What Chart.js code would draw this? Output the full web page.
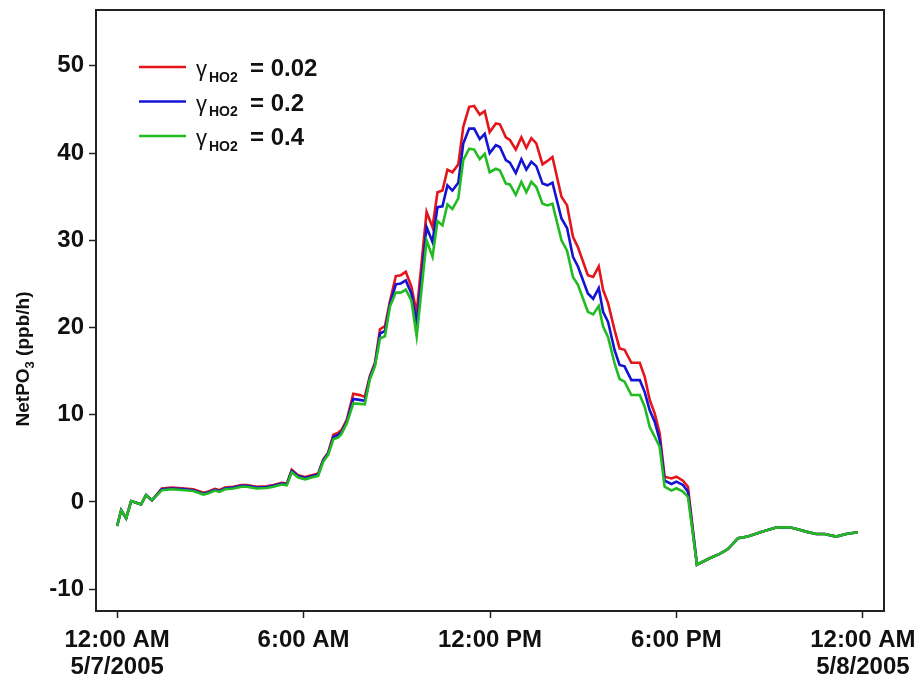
<!DOCTYPE html>
<html>
<head>
<meta charset="utf-8">
<script src="https://cdn.jsdelivr.net/npm/chart.js@4.4.1/dist/chart.umd.min.js"></script>
<style>
  html, body { margin: 0; padding: 0; background: #fff; }
</style>
</head>
<body>
<canvas id="myChart" width="917" height="679"></canvas>
<script>
// horas desde 12:00 AM de 5/7/2005
const hoursDay = [0, 0.13, 0.29, 0.45, 0.77, 0.93, 1.12, 1.44, 1.76, 2.08, 2.45, 2.78, 2.94, 3.15, 3.29, 3.47, 3.74, 4.01, 4.17, 4.49,
  4.81, 5.03, 5.3, 5.46, 5.62, 5.83, 6.05, 6.26, 6.47,
  6.63, 6.79, 6.96, 7.12, 7.22, 7.39, 7.6, 7.81, 7.97, 8.13, 8.3, 8.46, 8.62, 8.78, 8.97, 9.13, 9.29, 9.47, 9.64, 9.96,
  10.15, 10.31, 10.47, 10.63, 10.79, 10.98, 11.14, 11.33, 11.49, 11.67, 11.83, 11.99, 12.19, 12.32, 12.51, 12.64, 12.83, 13.01,
  13.17, 13.33, 13.49, 13.69, 13.85, 14.01, 14.3, 14.48, 14.67, 14.83, 15.15, 15.32, 15.5, 15.64, 15.8, 16.01, 16.17, 16.33,
  16.55, 16.82, 16.98, 17.14, 17.3, 17.46, 17.62, 17.84, 18.0, 18.21, 18.37];
const hoursNight = [18.66, 19.07, 19.39, 19.66, 19.98, 20.3, 20.68, 20.94, 21.21, 21.64, 21.9, 22.17, 22.5, 22.77, 23.14, 23.46, 23.83];

// NetPO3 (ppb/h) para cada gamma HO2
const red002 = [-2.75, -0.95, -1.87, 0.1, -0.27, 0.8, 0.19, 1.55, 1.65, 1.58, 1.45, 1.05, 1.2, 1.5, 1.35, 1.65, 1.75, 1.95, 1.95, 1.75,
  1.8, 1.95, 2.2, 2.1, 3.7, 3.05, 2.85, 3.05, 3.25,
  4.85, 5.65, 7.7, 7.95, 8.25, 9.4, 12.4, 12.25, 12.05, 14.4, 16.0, 19.8, 20.15, 23.0, 25.9, 26.0, 26.4, 24.7, 21.7, 33.25,
  31.5, 35.5, 35.7, 38.1, 37.8, 38.7, 43.0, 45.3, 45.4, 44.4, 44.8, 42.4, 43.4, 43.3, 41.8, 41.5, 40.4, 41.8,
  40.6, 41.7, 41.1, 38.7, 39.1, 39.55, 35.0, 34.0, 30.4, 29.2, 26.0, 25.8, 27.0, 24.3, 22.8, 19.7, 17.6, 17.45,
  15.96, 15.96, 14.35, 11.7, 10.16, 7.87, 2.9, 2.7, 2.9, 2.44, 1.75];
const blue02 = [-2.75, -0.95, -1.87, 0.1, -0.27, 0.8, 0.19, 1.45, 1.55, 1.48, 1.35, 0.95, 1.1, 1.4, 1.25, 1.55, 1.65, 1.85, 1.85, 1.65,
  1.7, 1.85, 2.1, 2.0, 3.55, 2.95, 2.75, 2.95, 3.15,
  4.75, 5.55, 7.45, 7.7, 8.0, 9.2, 11.8, 11.7, 11.6, 14.2, 15.8, 19.3, 19.6, 22.7, 24.95, 25.05, 25.4, 23.9, 20.4, 31.5,
  29.8, 33.8, 33.9, 36.3, 35.7, 36.6, 41.1, 42.8, 42.8, 41.6, 42.2, 40.0, 40.9, 40.7, 39.2, 38.9, 37.7, 39.3,
  38.1, 39.0, 38.5, 36.5, 36.3, 36.6, 32.5, 31.4, 28.1, 27.0, 23.9, 23.3, 24.5, 21.8, 20.65, 17.4, 15.7, 15.55,
  13.97, 13.97, 12.6, 10.5, 9.2, 7.1, 2.44, 2.06, 2.33, 1.95, 1.18];
const green04 = [-2.75, -0.95, -1.87, 0.1, -0.27, 0.8, 0.19, 1.35, 1.45, 1.38, 1.25, 0.85, 1.0, 1.3, 1.15, 1.45, 1.55, 1.75, 1.75, 1.55,
  1.6, 1.75, 2.0, 1.9, 3.4, 2.8, 2.6, 2.8, 3.0,
  4.6, 5.4, 7.2, 7.4, 7.8, 9.0, 11.3, 11.25, 11.2, 14.0, 15.6, 18.75, 19.0, 22.4, 24.0, 24.0, 24.35, 23.1, 19.0, 30.0,
  28.1, 32.2, 31.7, 34.1, 33.6, 34.8, 39.2, 40.5, 40.4, 39.3, 39.9, 37.8, 38.2, 38.0, 36.5, 36.4, 35.2, 36.7,
  35.5, 36.7, 36.1, 34.2, 34.0, 34.2, 30.0, 28.8, 25.8, 24.9, 21.8, 21.5, 22.45, 20.1, 18.9, 15.9, 14.1, 13.8,
  12.26, 12.26, 10.9, 8.6, 7.48, 6.33, 1.75, 1.3, 1.57, 1.18, 0.6];
// a noite as tres curvas coincidem
const nightAll = [-7.2, -6.45, -5.96, -5.4, -4.16, -3.97, -3.5, -3.2, -2.94, -2.9, -3.13, -3.4, -3.67, -3.67, -3.97, -3.67, -3.47];

const gammaValues = ['0.02', '0.2', '0.4'];
const lineColors = ['#e3161b', '#1414d2', '#22bb22'];

const yTicks = [-10, 0, 10, 20, 30, 40, 50];
const xTicks = [0, 6, 12, 18, 24];
const xTickTimes = ['12:00 AM', '6:00 AM', '12:00 PM', '6:00 PM', '12:00 AM'];
const xTickDates = ['5/7/2005', '', '', '', '5/8/2005'];

const hours = hoursDay.concat(hoursNight);
function pontos(dia) {
  return hours.map((h, i) => ({ x: h, y: i < dia.length ? dia[i] : nightAll[i - dia.length] }));
}

const FONT = '"Liberation Sans", Arial, sans-serif';

// moldura, legenda e titulo do eixo y (com subscritos)
const extras = {
  id: 'extras',
  afterDraw(chart) {
    const ctx = chart.ctx;
    const a = chart.chartArea;
    ctx.save();
    ctx.strokeStyle = '#222';
    ctx.lineWidth = 2;
    ctx.strokeRect(a.left, a.top, a.right - a.left, a.bottom - a.top);

    // legenda
    const rows = [67, 101.5, 136];
    ctx.fillStyle = '#111';
    ctx.textBaseline = 'alphabetic';
    rows.forEach((y, i) => {
      ctx.strokeStyle = lineColors[i];
      ctx.lineWidth = 2.5;
      ctx.beginPath();
      ctx.moveTo(139, y);
      ctx.lineTo(186, y);
      ctx.stroke();
      ctx.font = '22px ' + FONT;
      ctx.fillText('\u03b3', 196, y + 9);
      ctx.font = 'bold 14px ' + FONT;
      ctx.fillText('HO2', 209, y + 14.5);
      ctx.font = 'bold 24px ' + FONT;
      ctx.fillText('= ' + gammaValues[i], 250, y + 9);
    });

    // titulo do eixo y
    ctx.translate(29, 359);
    ctx.rotate(-Math.PI / 2);
    ctx.font = 'bold 19px ' + FONT;
    const w1 = ctx.measureText('NetPO').width;
    const w3 = ctx.measureText(' (ppb/h)').width;
    ctx.font = 'bold 13px ' + FONT;
    const w2 = ctx.measureText('3').width;
    let x = -(w1 + w2 + w3) / 2;
    ctx.font = 'bold 19px ' + FONT;
    ctx.fillText('NetPO', x, 0);
    ctx.font = 'bold 13px ' + FONT;
    ctx.fillText('3', x + w1, 5);
    ctx.font = 'bold 19px ' + FONT;
    ctx.fillText(' (ppb/h)', x + w1 + w2, 0);
    ctx.restore();
  }
};

const ctx = document.getElementById('myChart').getContext('2d');
const myChart = new Chart(ctx, {
  type: 'line',
  data: {
    datasets: [
      { label: '0.02', data: pontos(red002), borderColor: lineColors[0], order: 2 },
      { label: '0.2', data: pontos(blue02), borderColor: lineColors[1], order: 1 },
      { label: '0.4', data: pontos(green04), borderColor: lineColors[2], order: 0 }
    ]
  },
  options: {
    responsive: false,
    animation: false,
    layout: { padding: { top: 10, right: 33, left: 0, bottom: 0 } },
    elements: {
      point: { radius: 0 },
      line: { borderWidth: 2.6, tension: 0 }
    },
    plugins: {
      legend: { display: false },
      tooltip: { enabled: false }
    },
    scales: {
      x: {
        type: 'linear',
        min: -0.68,
        max: 24.68,
        afterBuildTicks: s => { s.ticks = xTicks.map(v => ({ value: v })); },
        afterFit: s => { s.height = 68; s.paddingLeft = 0; s.paddingRight = 0; },
        border: { display: false },
        grid: { drawOnChartArea: false, tickLength: 7, tickWidth: 1.5, tickColor: '#222' },
        ticks: {
          color: '#111',
          padding: 9,
          maxRotation: 0,
          autoSkip: false,
          font: { family: FONT, size: 24, weight: 'bold', lineHeight: 1.12 },
          callback: (v, i) => xTickDates[i] ? [xTickTimes[i], xTickDates[i]] : xTickTimes[i]
        }
      },
      y: {
        min: -12.5,
        max: 56.4,
        afterBuildTicks: s => { s.ticks = yTicks.map(v => ({ value: v })); },
        afterFit: s => { s.width = 96; s.paddingTop = 0; s.paddingBottom = 0; },
        border: { display: false },
        grid: { drawOnChartArea: false, tickLength: 7, tickWidth: 1.5, tickColor: '#222' },
        ticks: {
          color: '#111',
          padding: 5,
          font: { family: FONT, size: 24, weight: 'bold' }
        }
      }
    }
  },
  plugins: [extras]
});
</script>
</body>
</html>
